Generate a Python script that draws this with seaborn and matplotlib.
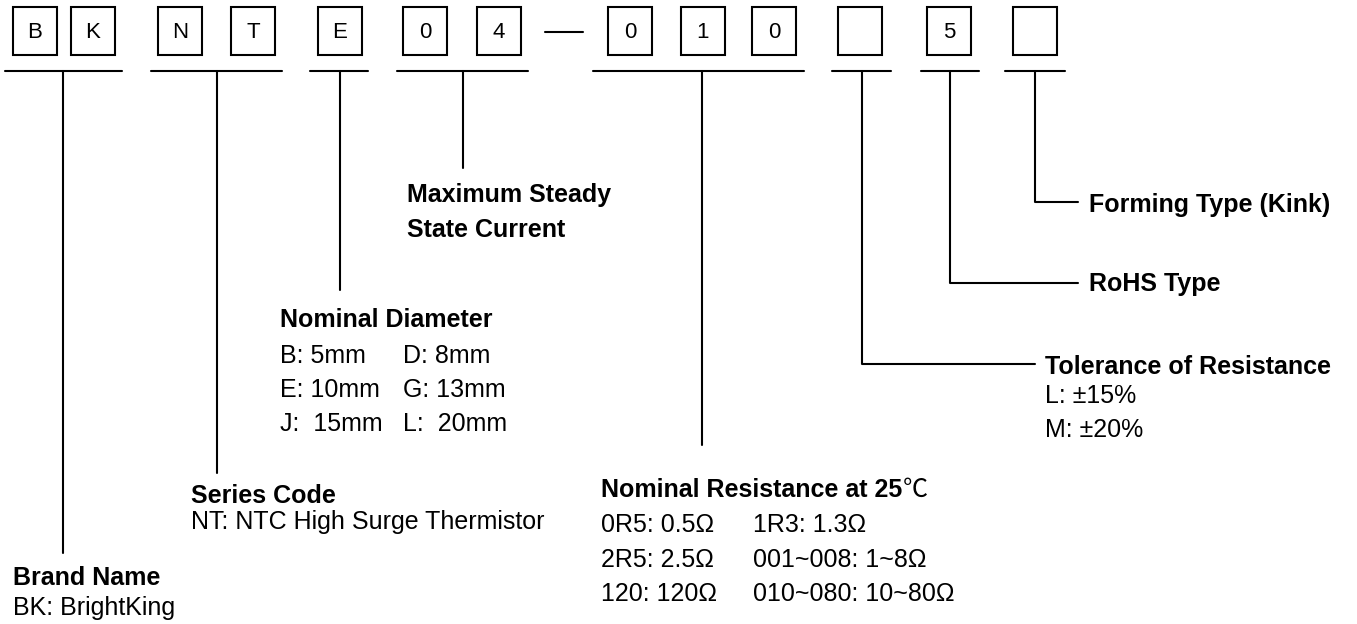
import pandas as pd
import matplotlib.pyplot as plt
import seaborn as sns
from matplotlib.patches import Rectangle

# caracteres do codigo de produto
codigo = ['B', 'K', 'N', 'T', 'E', '0', '4', '0', '1', '0', '', '5', '']

titulos = ['Brand Name', 'Series Code', 'Nominal Diameter', 'Maximum Steady',
           'Nominal Resistance at 25', 'Tolerance of Resistance', 'RoHS Type',
           'Forming Type (Kink)']
titulo_extra = 'State Current'

brand_desc = ['BK: BrightKing']
series_desc = ['NT: NTC High Surge Thermistor']
diam_col1 = ['B: 5mm', 'E: 10mm', 'J:  15mm']
diam_col2 = ['D: 8mm', 'G: 13mm', 'L:  20mm']
res_col1 = ['0R5: 0.5Ω', '2R5: 2.5Ω', '120: 120Ω']
res_col2 = ['1R3: 1.3Ω', '001~008: 1~8Ω', '010~080: 10~80Ω']
tol_desc = ['L: ±15%', 'M: ±20%']

# layout (pixels)
box_x = [13, 71, 158, 231, 318, 403, 477, 608, 681, 752, 838, 927, 1013]
box_w, box_top, box_h = 44, 7, 48
sub_x0 = [5, 151, 310, 397, 593, 832, 921, 1005]
sub_x1 = [122, 282, 368, 528, 804, 891, 979, 1065]
sub_y = 71
haste_x = [63, 217, 340, 463, 702, 862, 950, 1035]
haste_y = [553, 473, 290, 168, 445, 364, 283, 202]
cotovelo_x = [None, None, None, None, None, 1035, 1078, 1078]

sns.set_theme(style='white')
plt.rcParams['font.family'] = ['Liberation Sans', 'DejaVu Sans']
plt.rcParams['text.color'] = 'black'

fig = plt.figure(figsize=(13.57, 6.24), dpi=100)
ax = fig.add_axes([0, 0, 1, 1])

# segmentos das linhas
linhas = []
seg = 0
for i in range(len(sub_x0)):
    linhas += [(seg, sub_x0[i], sub_y), (seg, sub_x1[i], sub_y)]
    seg += 1
    pts = [(haste_x[i], sub_y), (haste_x[i], haste_y[i])]
    if cotovelo_x[i] is not None:
        pts.append((cotovelo_x[i], haste_y[i]))
    linhas += [(seg, x, y) for x, y in pts]
    seg += 1
linhas += [(seg, 545, 32), (seg, 583, 32)]
df = pd.DataFrame(linhas, columns=['seg', 'x', 'y'])
sns.lineplot(data=df, x='x', y='y', units='seg', estimator=None, sort=False,
             color='black', lw=1.5, ax=ax)

for c, x in zip(codigo, box_x):
    ax.add_patch(Rectangle((x, box_top), box_w, box_h, fill=False,
                           edgecolor='black', lw=1.5))
    ax.text(x + box_w / 2, 38, c, ha='center', va='baseline', fontsize=16,
            color='black')

fs = 18
def negrito(x, y, s):
    return ax.text(x, y, s, fontsize=fs, fontweight='bold', va='baseline',
                   color='black')
def normal(x, y, s):
    return ax.text(x, y, s, fontsize=fs, va='baseline', color='black')

negrito(13, 585, titulos[0])
normal(13, 615, brand_desc[0])
negrito(191, 503, titulos[1])
normal(191, 529, series_desc[0])
negrito(280, 327, titulos[2])
for y, a, b in zip([363, 397, 431], diam_col1, diam_col2):
    normal(280, y, a)
    normal(403, y, b)
negrito(407, 202, titulos[3])
negrito(407, 237, titulo_extra)
t = negrito(601, 497, titulos[4])
for y, a, b in zip([532, 567, 601], res_col1, res_col2):
    normal(601, y, a)
    normal(753, y, b)
negrito(1045, 374, titulos[5])
for y, s in zip([403, 437], tol_desc):
    normal(1045, y, s)
negrito(1089, 291, titulos[6])
negrito(1089, 212, titulos[7])

ax.set_xlim(0, 1357)
ax.set_ylim(624, 0)
ax.axis('off')

fig.canvas.draw()
bb = t.get_window_extent()
xe = ax.transData.inverted().transform((bb.x1, bb.y0))[0]
ax.text(xe + 1, 497, '℃', fontsize=fs, va='baseline', color='black',
        family=['Noto Sans CJK SC'])

fig.savefig('out.png', dpi=100, facecolor='white')
